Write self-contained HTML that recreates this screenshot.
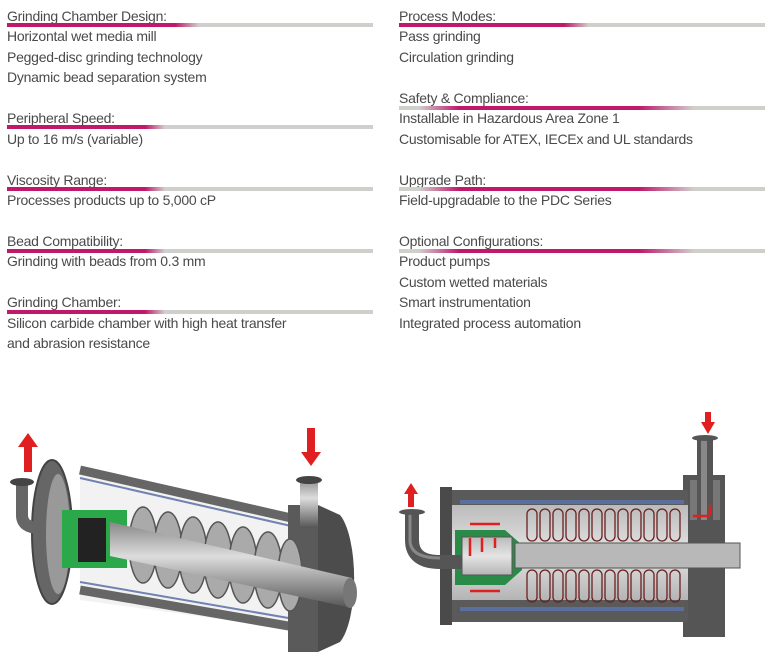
<!DOCTYPE html>
<html><head><meta charset="utf-8"><style>
html,body{margin:0;padding:0;background:#fff;}
body{width:769px;height:659px;position:relative;overflow:hidden;font-family:"Liberation Sans",Arial,sans-serif;color:#4a4a4a;}
.t{position:absolute;font-size:14px;line-height:20px;white-space:nowrap;letter-spacing:-0.25px;}
.b{position:absolute;height:4px;}
svg{position:absolute;left:0;top:0;}
</style></head><body>
<div class="t" style="left:7px;top:6px">Grinding Chamber Design:</div>
<div class="b" style="left:7px;top:23px;width:366px;background:linear-gradient(90deg,#c0186a 0,#c0186a 168px,#cfd0cc 192px,#cfd0cc 100%)"></div>
<div class="t" style="left:7px;top:26px">Horizontal wet media mill</div>
<div class="t" style="left:7px;top:47px">Pegged-disc grinding technology</div>
<div class="t" style="left:7px;top:67px">Dynamic bead separation system</div>

<div class="t" style="left:7px;top:108px">Peripheral Speed:</div>
<div class="b" style="left:7px;top:125px;width:366px;background:linear-gradient(90deg,#c0186a 0,#c0186a 138px,#cfd0cc 158px,#cfd0cc 100%)"></div>
<div class="t" style="left:7px;top:129px">Up to 16 m/s (variable)</div>

<div class="t" style="left:7px;top:170px">Viscosity Range:</div>
<div class="b" style="left:7px;top:187px;width:366px;background:linear-gradient(90deg,#c0186a 0,#c0186a 138px,#cfd0cc 158px,#cfd0cc 100%)"></div>
<div class="t" style="left:7px;top:190px">Processes products up to 5,000 cP</div>

<div class="t" style="left:7px;top:231px">Bead Compatibility:</div>
<div class="b" style="left:7px;top:249px;width:366px;background:linear-gradient(90deg,#c0186a 0,#c0186a 138px,#cfd0cc 158px,#cfd0cc 100%)"></div>
<div class="t" style="left:7px;top:251px">Grinding with beads from 0.3 mm</div>

<div class="t" style="left:7px;top:292px">Grinding Chamber:</div>
<div class="b" style="left:7px;top:310px;width:366px;background:linear-gradient(90deg,#c0186a 0,#c0186a 138px,#cfd0cc 158px,#cfd0cc 100%)"></div>
<div class="t" style="left:7px;top:313px">Silicon carbide chamber with high heat transfer</div>
<div class="t" style="left:7px;top:333px">and abrasion resistance</div>

<div class="t" style="left:399px;top:6px">Process Modes:</div>
<div class="b" style="left:399px;top:23px;width:366px;background:linear-gradient(90deg,#c0186a 0,#c0186a 165px,#cfd0cc 190px,#cfd0cc 100%)"></div>
<div class="t" style="left:399px;top:26px">Pass grinding</div>
<div class="t" style="left:399px;top:47px">Circulation grinding</div>

<div class="t" style="left:399px;top:88px">Safety &amp; Compliance:</div>
<div class="b" style="left:399px;top:106px;width:366px;background:linear-gradient(90deg,#cfd0cc 0,#cfd0cc 20px,#c0186a 60px,#c0186a 240px,#cfd0cc 295px,#cfd0cc 100%)"></div>
<div class="t" style="left:399px;top:108px">Installable in Hazardous Area Zone 1</div>
<div class="t" style="left:399px;top:129px">Customisable for ATEX, IECEx and UL standards</div>

<div class="t" style="left:399px;top:170px">Upgrade Path:</div>
<div class="b" style="left:399px;top:187px;width:366px;background:linear-gradient(90deg,#cfd0cc 0,#cfd0cc 20px,#c0186a 60px,#c0186a 240px,#cfd0cc 295px,#cfd0cc 100%)"></div>
<div class="t" style="left:399px;top:190px">Field-upgradable to the PDC Series</div>

<div class="t" style="left:399px;top:231px">Optional Configurations:</div>
<div class="b" style="left:399px;top:249px;width:366px;background:linear-gradient(90deg,#cfd0cc 0,#cfd0cc 20px,#c0186a 60px,#c0186a 240px,#cfd0cc 295px,#cfd0cc 100%)"></div>
<div class="t" style="left:399px;top:251px">Product pumps</div>
<div class="t" style="left:399px;top:272px">Custom wetted materials</div>
<div class="t" style="left:399px;top:292px">Smart instrumentation</div>
<div class="t" style="left:399px;top:313px">Integrated process automation</div>

<svg width="769" height="659" viewBox="0 0 769 659">
<defs>
<linearGradient id="cyl" x1="0" y1="0" x2="0" y2="1"><stop offset="0" stop-color="#888"/><stop offset="0.4" stop-color="#ddd"/><stop offset="1" stop-color="#555"/></linearGradient>
<linearGradient id="lg" x1="0" y1="0" x2="0" y2="1"><stop offset="0" stop-color="#bbb"/><stop offset="0.5" stop-color="#e4e4e4"/><stop offset="1" stop-color="#b5b5b5"/></linearGradient>
</defs>
<polygon points="80,468 300,518 300,630 80,600" fill="#f2f2f2"/>
<line x1="80" y1="470" x2="300" y2="520" stroke="#666" stroke-width="9"/>
<line x1="80" y1="478" x2="300" y2="528" stroke="#7082b0" stroke-width="2"/>
<line x1="80" y1="590" x2="300" y2="628" stroke="#666" stroke-width="9"/>
<line x1="80" y1="582" x2="300" y2="620" stroke="#7082b0" stroke-width="2"/>
<path d="M318,505 L340,515 A22,68 0 0 1 340,642 L318,652 L288,652 L288,505 Z" fill="#4c4c4c"/>
<rect x="288" y="505" width="30" height="147" fill="#5a5a5a"/>
<rect x="300" y="478" width="18" height="50" fill="url(#cyl)"/>
<ellipse cx="309" cy="480" rx="13" ry="4" fill="#444"/>
<ellipse cx="52" cy="532" rx="20" ry="72" fill="#666" stroke="#444" stroke-width="2"/>
<ellipse cx="58" cy="534" rx="12" ry="60" fill="#999"/>
<path d="M22,484 L22,515 Q22,528 40,528" stroke="#666" stroke-width="12" fill="none"/>
<ellipse cx="22" cy="482" rx="12" ry="4" fill="#444"/>
<rect x="62" y="510" width="65" height="58" fill="#2aa84a"/>
<rect x="78" y="518" width="28" height="44" fill="#222"/>
<g fill="#aaa" stroke="#555" stroke-width="1.5">
<ellipse cx="143" cy="545" rx="14" ry="38"/><ellipse cx="168" cy="550" rx="14" ry="38"/><ellipse cx="193" cy="555" rx="14" ry="38"/><ellipse cx="218" cy="560" rx="14" ry="38"/><ellipse cx="243" cy="565" rx="14" ry="38"/><ellipse cx="268" cy="570" rx="14" ry="38"/><ellipse cx="290" cy="575" rx="12" ry="36"/>
</g>
<polygon points="110,522 352,578 352,608 110,556" fill="url(#cyl)"/>
<ellipse cx="350" cy="593" rx="7" ry="15" fill="#777"/>
<polygon points="28,433 18,447 24,447 24,472 32,472 32,447 38,447" fill="#e02020"/>
<polygon points="311,466 301,452 307,452 307,428 315,428 315,452 321,452" fill="#e02020"/>
<rect x="683" y="475" width="42" height="162" fill="#555"/>
<rect x="690" y="480" width="30" height="40" fill="#777"/>
<rect x="440" y="487" width="12" height="138" fill="#4a4a4a"/>
<rect x="452" y="490" width="236" height="132" fill="#5a5a5a"/>
<rect x="460" y="500" width="224" height="4" fill="#5a6fa0"/>
<rect x="460" y="607" width="224" height="4" fill="#5a6fa0"/>
<rect x="452" y="505" width="236" height="95" fill="url(#lg)"/>
<g fill="none" stroke="#6b2020" stroke-width="1.3">
<rect x="527" y="509" width="10" height="32" rx="5"/><rect x="540" y="509" width="10" height="32" rx="5"/><rect x="553" y="509" width="10" height="32" rx="5"/><rect x="566" y="509" width="10" height="32" rx="5"/><rect x="579" y="509" width="10" height="32" rx="5"/><rect x="592" y="509" width="10" height="32" rx="5"/><rect x="605" y="509" width="10" height="32" rx="5"/><rect x="618" y="509" width="10" height="32" rx="5"/><rect x="631" y="509" width="10" height="32" rx="5"/><rect x="644" y="509" width="10" height="32" rx="5"/><rect x="657" y="509" width="10" height="32" rx="5"/><rect x="670" y="509" width="10" height="32" rx="5"/>
<rect x="527" y="570" width="10" height="32" rx="5"/><rect x="540" y="570" width="10" height="32" rx="5"/><rect x="553" y="570" width="10" height="32" rx="5"/><rect x="566" y="570" width="10" height="32" rx="5"/><rect x="579" y="570" width="10" height="32" rx="5"/><rect x="592" y="570" width="10" height="32" rx="5"/><rect x="605" y="570" width="10" height="32" rx="5"/><rect x="618" y="570" width="10" height="32" rx="5"/><rect x="631" y="570" width="10" height="32" rx="5"/><rect x="644" y="570" width="10" height="32" rx="5"/><rect x="657" y="570" width="10" height="32" rx="5"/><rect x="670" y="570" width="10" height="32" rx="5"/>
</g>
<polygon points="455,530 505,530 522,545 522,570 505,585 455,585" fill="#2a8a48"/>
<rect x="462" y="537" width="50" height="38" fill="url(#lg)" stroke="#555"/>
<rect x="515" y="543" width="225" height="25" fill="#b8b8b8" stroke="#555"/>
<rect x="697" y="440" width="16" height="80" fill="#555"/>
<rect x="701" y="440" width="6" height="80" fill="#888"/>
<ellipse cx="705" cy="438" rx="13" ry="3" fill="#555"/>
<path d="M412,514 L412,540 Q412,562 440,562 L462,562" stroke="#555" stroke-width="14" fill="none"/>
<path d="M410,514 L410,540 Q410,558 440,558" stroke="#888" stroke-width="3" fill="none"/>
<ellipse cx="412" cy="512" rx="13" ry="3" fill="#555"/>
<polygon points="411,483 404,494 408,494 408,507 414,507 414,494 418,494" fill="#e02020"/>
<polygon points="708,434 701,422 705,422 705,412 711,412 711,422 715,422" fill="#e02020"/>
<g stroke="#e02020" stroke-width="2.5" fill="#e02020">
<line x1="470" y1="524" x2="500" y2="524"/><line x1="470" y1="591" x2="500" y2="591"/>
<line x1="470" y1="538" x2="470" y2="556"/><line x1="482" y1="538" x2="482" y2="552"/><line x1="495" y1="538" x2="495" y2="548"/>
<line x1="710" y1="505" x2="710" y2="516"/><line x1="693" y1="516" x2="710" y2="516"/>
</g>
</svg>
</body></html>
